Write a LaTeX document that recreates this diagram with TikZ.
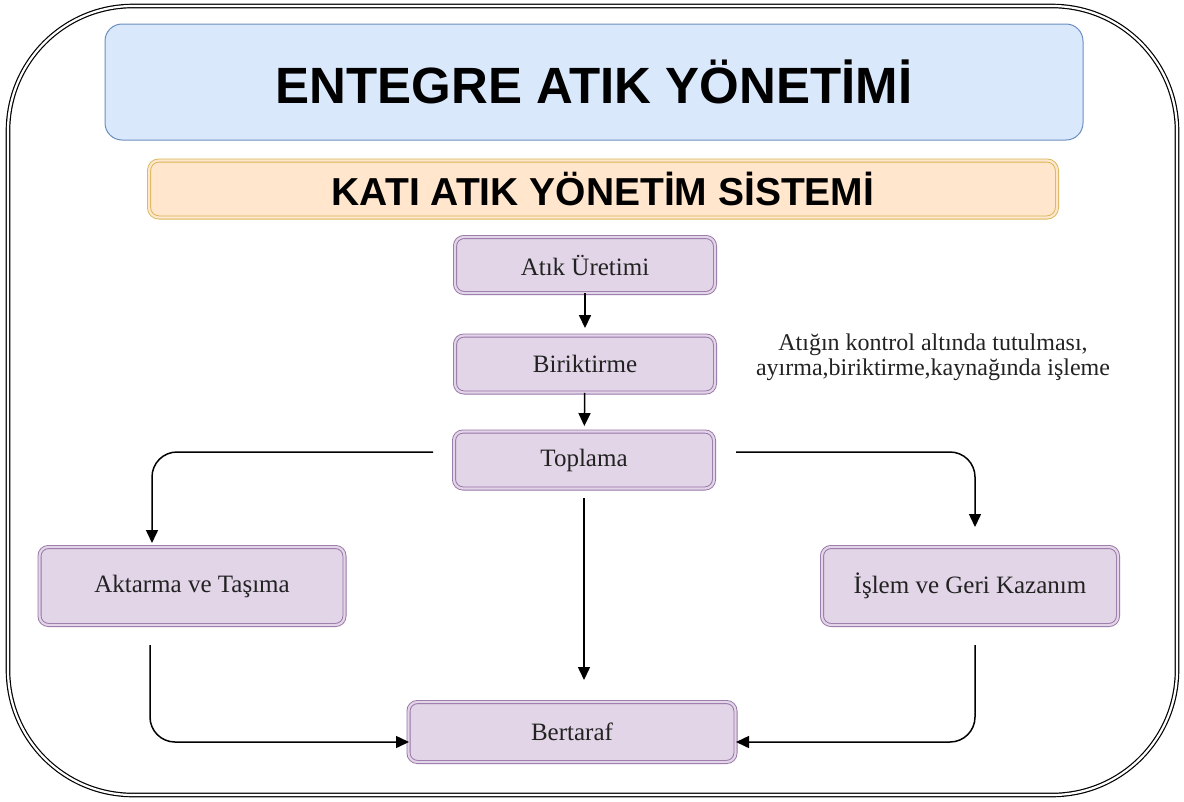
\documentclass[tikz,border=0pt]{standalone}
\usepackage{fontspec}
\setmainfont{Liberation Serif}
\newfontfamily\headfont{Liberation Sans}
\usetikzlibrary{arrows.meta}
\definecolor{frameblue}{HTML}{6C8EBF}
\definecolor{fillblue}{HTML}{DAE8FC}
\definecolor{framegold}{HTML}{D6B656}
\definecolor{fillpeach}{HTML}{FFE6CC}
\definecolor{framepurple}{HTML}{9673A6}
\definecolor{fillpurple}{HTML}{E1D5E7}
\definecolor{txt}{HTML}{222222}
\tikzset{
  outerframe/.style={draw=black, line width=1.2pt, double=white, double distance=2.2pt, rounded corners=125pt},
  titlebox/.style={draw=frameblue, fill=fillblue, line width=1pt, rounded corners=17pt, inner sep=0pt,
     font=\headfont\bfseries\fontsize{51}{60}\selectfont, text=black},
  subbox/.style={draw=framegold, line width=0.9pt, double=fillpeach, double distance=2.2pt, fill=fillpeach,
     rounded corners=10pt, inner sep=0pt, font=\headfont\bfseries\fontsize{39}{46}\selectfont, text=black},
  procbox/.style={draw=framepurple, line width=0.9pt, double=fillpurple, double distance=2.2pt, fill=fillpurple,
     rounded corners=9pt, inner sep=0pt, font=\fontsize{25}{28}\selectfont, text=txt},
  note/.style={align=center, font=\fontsize{24}{25}\selectfont, text=txt, inner sep=0pt},
  arr/.style={draw=black, line width=1.5pt, -{Triangle[length=13pt,width=12pt]}},
  elbow/.style={arr, rounded corners=25pt},
}
\begin{document}
\begin{tikzpicture}[x=1pt, y=-1pt]
\useasboundingbox (0,0) rectangle (1184,801);
\draw[outerframe] (8,6) rectangle (1177,795);

\node[titlebox, minimum width=978pt, minimum height=116pt] (title) at (594,82) {ENTEGRE ATIK YÖNETİMİ};
\node[subbox, minimum width=908pt, minimum height=57pt] (sub) at (603,189) {KATI ATIK YÖNETİM SİSTEMİ};

\node[procbox, minimum width=260pt, minimum height=56pt] (uret) at (585,265) {Atık Üretimi};
\node[procbox, minimum width=260pt, minimum height=57pt] (birik) at (585,364) {Biriktirme};
\node[procbox, minimum width=260pt, minimum height=57pt] (topl) at (584,460) {Toplama};
\node[procbox, minimum width=305pt, minimum height=78pt] (akt) at (192,586) {Aktarma ve Taşıma};
\node[procbox, minimum width=296pt, minimum height=78pt] (islem) at (970,586) {İşlem ve Geri Kazanım};
\node[procbox, minimum width=327pt, minimum height=60pt] (bert) at (572,732) {Bertaraf};

\node[note] (not) at (933,357) {Atığın kontrol altında tutulması,\\ayırma,biriktirme,kaynağında işleme};

\coordinate (tlstart) at (433,452);
\coordinate (tlend) at (152,543);
\coordinate (trstart) at (736,452);
\coordinate (trend) at (975,527);
\coordinate (cstart) at (584,498);
\coordinate (cend) at (584,680);
\coordinate (blstart) at (150,645);
\coordinate (blend) at (409,742);
\coordinate (brstart) at (975,645);
\coordinate (brend) at (736,742);

\draw[arr, shorten >=7pt] (uret) -- (birik);
\draw[arr, shorten >=5pt] (birik) -- (topl);
\draw[elbow] (tlstart) -| (tlend);
\draw[elbow] (trstart) -| (trend);
\draw[arr] (cstart) -- (cend);
\draw[elbow] (blstart) |- (blend);
\draw[elbow] (brstart) |- (brend);
\end{tikzpicture}
\end{document}
